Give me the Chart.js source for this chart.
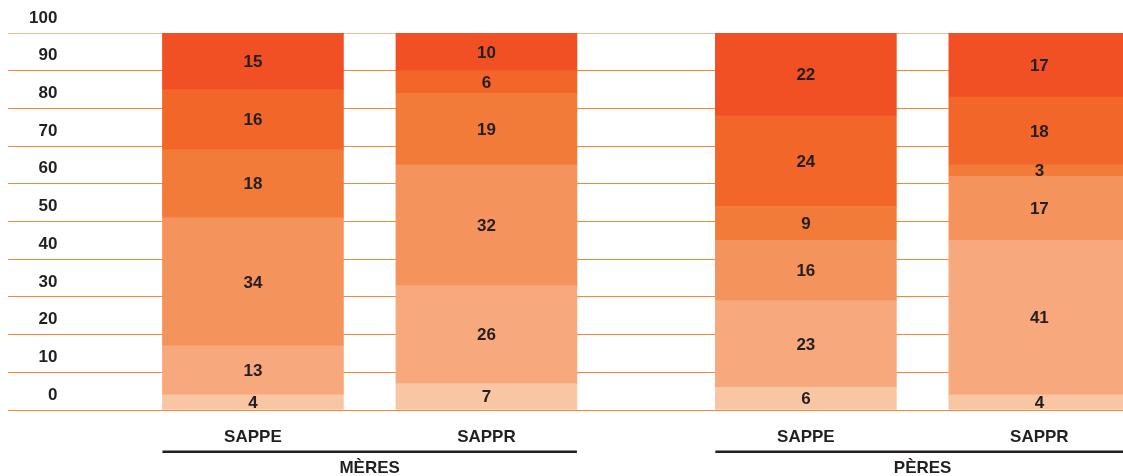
<!DOCTYPE html>
<html lang="fr">
<head>
<meta charset="utf-8">
<title>SAPPE / SAPPR</title>
<script src="https://cdn.jsdelivr.net/npm/chart.js@4.4.1/dist/chart.umd.min.js"></script>
<style>
  html, body { margin: 0; padding: 0; background: #fff; overflow: hidden; }
  #chart-wrap { position: relative; width: 1140px; height: 476px; }
</style>
</head>
<body>
<div id="chart-wrap"><canvas id="stack-chart"></canvas></div>
<script>
// One bar per entry, left to right
const barLabels = ['SAPPE', 'SAPPR', 'SAPPE', 'SAPPR'];
// Which group each bar sits under
const barGroups = [0, 0, 1, 1];
const groupLabels = ['MÈRES', 'PÈRES'];

// Bands in %, bottom to top
const band1 = [4, 7, 6, 4];
const band2 = [13, 26, 23, 41];
const band3 = [34, 32, 16, 17];
const band4 = [18, 19, 9, 3];
const band5 = [16, 6, 24, 18];
const band6 = [15, 10, 22, 17];

// Y axis tick labels
const yTicks = [0, 10, 20, 30, 40, 50, 60, 70, 80, 90, 100];

// Light to dark, bottom band first
const bandColors = ['#f9c6a3', '#f7a97d', '#f5935c', '#f37b3a', '#f3662a', '#f14f24'];
const TEXT_COLOR = '#231f20';
const FONT = { family: "'Liberation Sans', Arial, Helvetica, sans-serif", size: 17, weight: 'bold' };

// Extra room between the two groups, in bar steps
const GROUP_GAP = 0.368;
const xPos = barLabels.map((_, i) => i + barGroups[i] * GROUP_GAP);

const bands = [band1, band2, band3, band4, band5, band6];

/**
 * Draw the value of each segment in its middle
 */
const segmentLabels = {
  id: 'segmentLabels',
  afterDatasetsDraw(chart) {
    const ctx = chart.ctx;
    ctx.save();
    ctx.font = `${FONT.weight} ${FONT.size}px ${FONT.family}`;
    ctx.fillStyle = TEXT_COLOR;
    ctx.textAlign = 'center';
    ctx.textBaseline = 'middle';
    chart.data.datasets.forEach((ds, di) => {
      const meta = chart.getDatasetMeta(di);
      meta.data.forEach((bar, i) => {
        const yMid = (bar.y + bar.base) / 2;
        ctx.fillText(String(ds.data[i].y), bar.x, yMid + 1);
      });
    });
    ctx.restore();
  }
};

/**
 * Underline each group of bars and write the group name below it
 */
const groupAxis = {
  id: 'groupAxis',
  afterDraw(chart) {
    const ctx = chart.ctx;
    const meta = chart.getDatasetMeta(0);
    const base = chart.chartArea.bottom;
    ctx.save();
    ctx.font = `${FONT.weight} ${FONT.size}px ${FONT.family}`;
    ctx.fillStyle = TEXT_COLOR;
    ctx.textAlign = 'center';
    ctx.textBaseline = 'middle';
    groupLabels.forEach((label, g) => {
      const bars = meta.data.filter((_, i) => barGroups[i] === g);
      const left = Math.min(...bars.map(b => b.x - b.width / 2));
      const right = Math.max(...bars.map(b => b.x + b.width / 2));
      ctx.fillRect(left, base + 40.5, right - left, 2.5);
      ctx.fillText(label, (left + right) / 2, base + 58.5);
    });
    ctx.restore();
  }
};

function createStackChart() {
  const el = document.getElementById('stack-chart');
  if (!el) return;

  new Chart(el, {
    type: 'bar',
    data: {
      datasets: bands.map((values, b) => ({
        label: 'Tranche ' + (b + 1),
        data: values.map((v, i) => ({ x: xPos[i], y: v })),
        backgroundColor: bandColors[b],
        borderWidth: 0,
        barThickness: 181
      }))
    },
    options: {
      responsive: true,
      maintainAspectRatio: false,
      animation: false,
      layout: { padding: { left: 8, top: 33, right: 0, bottom: 0 } },
      plugins: {
        legend: { display: false },
        tooltip: { enabled: false }
      },
      scales: {
        x: {
          type: 'linear',
          stacked: true,
          offset: false,
          min: -1.049,
          max: 3.799,
          afterBuildTicks: (scale) => { scale.ticks = xPos.map(v => ({ value: v })); },
          afterFit: (scale) => { scale.height = 66; },
          grid: { display: false, drawTicks: false, offset: false },
          border: { display: false },
          ticks: {
            autoSkip: false,
            maxRotation: 0,
            padding: 17,
            color: TEXT_COLOR,
            font: FONT,
            callback: (value, index) => barLabels[index]
          }
        },
        y: {
          stacked: true,
          min: 0,
          max: 100,
          afterBuildTicks: (scale) => { scale.ticks = yTicks.map(v => ({ value: v })); },
          afterFit: (scale) => { scale.width = 0; },
          grid: {
            drawTicks: false,
            lineWidth: 1,
            color: (ctx) => (ctx.tick && ctx.tick.value === 100 ? '#f8b592' : '#f5873f')
          },
          border: { display: false },
          ticks: {
            mirror: true,
            crossAlign: 'far',
            padding: 21,
            labelOffset: -15,
            color: TEXT_COLOR,
            font: FONT,
            callback: (value) => String(value)
          }
        }
      }
    },
    plugins: [segmentLabels, groupAxis]
  });
}

document.addEventListener('DOMContentLoaded', () => {
  try {
    createStackChart();
  } catch (error) {
    console.error('Error creating chart:', error);
  }
});
</script>
</body>
</html>
